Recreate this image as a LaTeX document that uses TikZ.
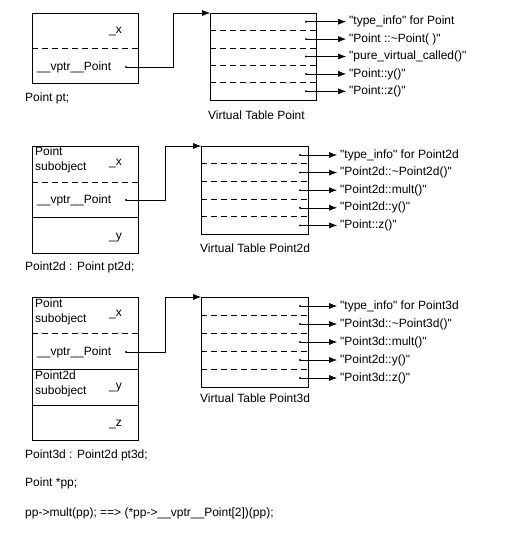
\documentclass[tikz,border=0pt]{standalone}
\usepackage{fontspec}
\newfontfamily\plainsans{Liberation Sans}
\usetikzlibrary{arrows.meta}
\begin{document}
\begin{tikzpicture}[x=1pt,y=-1pt,
  font=\plainsans\fontsize{12}{15}\selectfont,
  objbox/.style={draw, line width=0.6pt, anchor=north west, inner sep=0pt, minimum width=106pt},
  vtbox/.style={draw, line width=0.6pt, anchor=north west, inner sep=0pt, minimum width=107pt},
  sep/.style={dash pattern=on 6pt off 4pt, line width=0.5pt},
  solidsep/.style={line width=0.6pt},
  ptr/.style={-{Latex[length=8pt,width=6pt]}, line width=0.5pt},
  lbl/.style={anchor=west, inner sep=0pt},
  rlbl/.style={anchor=east, inner sep=0pt},
  entry/.style={anchor=west, inner sep=3pt},
  sub/.style={anchor=north west, inner sep=0pt, align=left}]
\useasboundingbox (0,0) rectangle (521,538);

% ---------------- Section 1: Point ----------------
\node[objbox, minimum height=70pt] (o1) at (32,13) {};
\draw[sep] (32,48) -- (138,48);
\node[rlbl] (o1x) at (122,32) {\_x};
\node[lbl] (o1v) at (37,67) {\_\_vptr\_\_Point};
\node[lbl] (o1lab) at (25,98) {Point pt;};

\node[vtbox, minimum height=87pt, minimum width=106pt] (vt1) at (210,13) {};
\foreach \yy in {30.4,47.8,65.2,82.6} \draw[sep] (210,\yy) -- (316,\yy);
\node[lbl] (vt1lab) at (208,115) {Virtual Table Point};

\coordinate (s1) at (126,67);
\fill (s1) circle (1.1);
\draw[ptr] (s1) -- (173,67) |- (vt1.north west);

\node[entry] (e11) at (346,21.7) {"type\_info" for Point};
\node[entry] (e12) at (346,39.1) {"Point ::\textasciitilde Point( )"};
\node[entry] (e13) at (346,56.5) {"pure\_virtual\_called()"};
\node[entry] (e14) at (346,73.9) {"Point::y()"};
\node[entry] (e15) at (346,91.3) {"Point::z()"};
\foreach \i/\yy in {1/21.7,2/39.1,3/56.5,4/73.9,5/91.3}{
  \coordinate (d1\i) at (306,\yy);
  \fill (d1\i) circle (1.1);
  \draw[ptr] (d1\i) -- (e1\i.west);
}

% ---------------- Section 2: Point2d ----------------
\node[objbox, minimum height=107pt] (o2) at (32,146) {};
\draw[sep] (32,182) -- (138,182);
\draw[solidsep] (32,217) -- (138,217);
\node[sub] (o2s) at (35,147) {Point\\subobject};
\node[rlbl] (o2x) at (122,164) {\_x};
\node[lbl] (o2v) at (37,200) {\_\_vptr\_\_Point};
\node[rlbl] (o2y) at (122,238) {\_y};
\node[lbl] (o2lab) at (25,267) {Point2d : Point pt2d;};

\node[vtbox, minimum height=88pt] (vt2) at (201,146) {};
\foreach \yy in {163.6,181.2,198.8,216.4} \draw[sep] (201,\yy) -- (308,\yy);
\node[lbl] (vt2lab) at (200,248) {Virtual Table Point2d};

\coordinate (s2) at (126,200);
\fill (s2) circle (1.1);
\draw[ptr] (s2) -- (165,200) |- (vt2.north west);

\node[entry] (e21) at (337,155) {"type\_info" for Point2d};
\node[entry] (e22) at (337,172.6) {"Point2d::\textasciitilde Point2d()"};
\node[entry] (e23) at (337,190.2) {"Point2d::mult()"};
\node[entry] (e24) at (337,207.8) {"Point2d::y()"};
\node[entry] (e25) at (337,225.4) {"Point::z()"};
\foreach \i/\yy in {1/155,2/172.6,3/190.2,4/207.8,5/225.4}{
  \coordinate (d2\i) at (300,\yy);
  \fill (d2\i) circle (1.1);
  \draw[ptr] (d2\i) -- (e2\i.west);
}

% ---------------- Section 3: Point3d ----------------
\node[objbox, minimum height=143pt] (o3) at (32,297) {};
\draw[sep] (32,333) -- (138,333);
\draw[solidsep] (32,369) -- (138,369);
\draw[solidsep] (32,405) -- (138,405);
\node[sub] (o3s1) at (35,299) {Point\\subobject};
\node[rlbl] (o3x) at (122,315) {\_x};
\node[lbl] (o3v) at (37,352) {\_\_vptr\_\_Point};
\node[sub] (o3s2) at (35,371) {Point2d\\subobject};
\node[rlbl] (o3y) at (122,388) {\_y};
\node[rlbl] (o3z) at (122,425) {\_z};
\node[lbl] (o3lab) at (25,455) {Point3d : Point2d pt3d;};

\node[vtbox, minimum height=90pt] (vt3) at (201,297) {};
\foreach \yy in {315,333,351,369} \draw[sep] (201,\yy) -- (308,\yy);
\node[lbl] (vt3lab) at (200,398) {Virtual Table Point3d};

\coordinate (s3) at (126,352);
\fill (s3) circle (1.1);
\draw[ptr] (s3) -- (165,352) |- (vt3.north west);

\node[entry] (e31) at (337,306) {"type\_info" for Point3d};
\node[entry] (e32) at (337,324) {"Point3d::\textasciitilde Point3d()"};
\node[entry] (e33) at (337,342) {"Point3d::mult()"};
\node[entry] (e34) at (337,360) {"Point2d::y()"};
\node[entry] (e35) at (337,378) {"Point3d::z()"};
\foreach \i/\yy in {1/306,2/324,3/342,4/360,5/378}{
  \coordinate (d3\i) at (300,\yy);
  \fill (d3\i) circle (1.1);
  \draw[ptr] (d3\i) -- (e3\i.west);
}

% ---------------- Bottom code ----------------
\node[lbl] (pp) at (25,483) {Point *pp;};
\node[lbl] (call) at (25,513) {pp->mult(pp); ==> (*pp->\_\_vptr\_\_Point[2])(pp);};
\end{tikzpicture}
\end{document}
